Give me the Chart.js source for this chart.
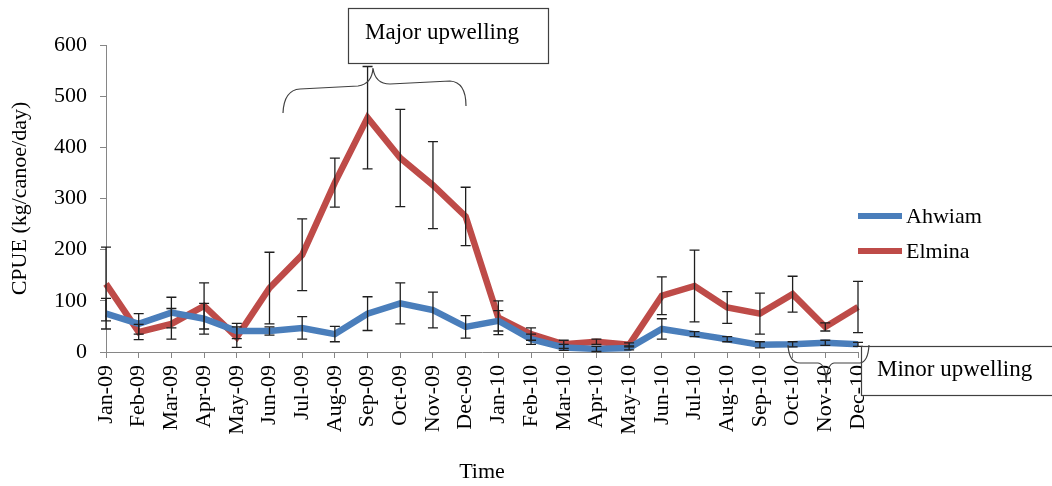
<!DOCTYPE html>
<html>
<head>
<meta charset="utf-8">
<script src="https://cdn.jsdelivr.net/npm/chart.js@4.4.0/dist/chart.umd.min.js"></script>
<style>
    body { margin: 0; background: #fff; }
    #wrap { width: 1052px; height: 486px; position: relative; }
</style>
</head>
<body>
<div id="wrap"><canvas id="cpue_chart"></canvas></div>
<script>
const months = ["Jan-09", "Feb-09", "Mar-09", "Apr-09", "May-09", "Jun-09", "Jul-09", "Aug-09",
    "Sep-09", "Oct-09", "Nov-09", "Dec-09", "Jan-10", "Feb-10", "Mar-10", "Apr-10", "May-10",
    "Jun-10", "Jul-10", "Aug-10", "Sep-10", "Oct-10", "Nov-10", "Dec-10"]

const ahwiam = [75, 55, 77, 65, 41, 41, 47, 35, 75, 95, 82, 49, 61, 25, 9, 6, 8, 45, 35, 25, 14, 15, 18, 15]
const ahwiam_err = [30, 20, 30, 30, 15, 8, 22, 15, 33, 40, 35, 22, 20, 10, 6, 5, 4, 20, 5, 5, 6, 5, 5, 4]

const elmina = [133, 39, 55, 90, 29, 125, 190, 331, 458, 379, 326, 265, 67, 35, 15, 20, 14, 110, 129, 87, 75, 113, 49, 88]
const elmina_err = [72, 15, 30, 45, 20, 70, 70, 48, 100, 95, 85, 57, 33, 12, 8, 5, 4, 37, 70, 31, 40, 35, 8, 50]

const y_ticks = [0, 100, 200, 300, 400, 500, 600]

const serif = "'Liberation Serif', 'Times New Roman', serif"

// error bars drawn over the lines, same as the excel output
const errorBars = {
    id: "errorBars",
    afterDatasetsDraw(chart) {
        let ctx = chart.ctx
        let x = chart.scales.x
        let y = chart.scales.y
        let errs = [ahwiam_err, elmina_err]
        ctx.save()
        ctx.strokeStyle = "#1f1f1f"
        ctx.lineWidth = 1.3
        chart.data.datasets.forEach((ds, i) => {
            for (let j = 0; j < ds.data.length; j++) {
                let px = x.getPixelForValue(j)
                let top = y.getPixelForValue(ds.data[j] + errs[i][j])
                let bot = y.getPixelForValue(Math.max(ds.data[j] - errs[i][j], 0))
                ctx.beginPath()
                ctx.moveTo(px, top)
                ctx.lineTo(px, bot)
                ctx.moveTo(px - 5, top)
                ctx.lineTo(px + 5, top)
                ctx.moveTo(px - 5, bot)
                ctx.lineTo(px + 5, bot)
                ctx.stroke()
            }
        })
        ctx.restore()
    }
}

// legend + the two upwelling call-outs
const extras = {
    id: "extras",
    afterDraw(chart) {
        let ctx = chart.ctx
        ctx.save()

        // legend
        chart.data.datasets.forEach((ds, i) => {
            let ly = 216 + i * 35
            ctx.strokeStyle = ds.borderColor
            ctx.lineWidth = 6
            ctx.beginPath()
            ctx.moveTo(858, ly)
            ctx.lineTo(902, ly)
            ctx.stroke()
            ctx.fillStyle = "#000"
            ctx.font = "22px " + serif
            ctx.textBaseline = "middle"
            ctx.fillText(ds.label, 906, ly + 1)
        })

        ctx.strokeStyle = "#404040"
        ctx.lineWidth = 1.2

        // major upwelling box and brace
        ctx.fillStyle = "#fff"
        ctx.fillRect(348, 8, 200, 55)
        ctx.strokeRect(348.5, 8.5, 200, 55)
        ctx.fillStyle = "#000"
        ctx.font = "23px " + serif
        ctx.textBaseline = "alphabetic"
        ctx.fillText("Major upwelling", 365, 39)

        ctx.beginPath()
        ctx.moveTo(283, 113)
        ctx.quadraticCurveTo(284, 90, 300, 89)
        ctx.lineTo(358, 86)
        ctx.quadraticCurveTo(372, 84, 373, 68)
        ctx.quadraticCurveTo(375, 84, 390, 84)
        ctx.lineTo(450, 81)
        ctx.quadraticCurveTo(466, 82, 466, 106)
        ctx.stroke()

        // minor upwelling box and brace
        ctx.fillStyle = "#fff"
        ctx.fillRect(861, 346, 200, 49)
        ctx.strokeRect(861.5, 346.5, 200, 49)
        ctx.fillStyle = "#000"
        ctx.font = "23px " + serif
        ctx.fillText("Minor upwelling", 877, 376)

        ctx.beginPath()
        ctx.moveTo(788, 345)
        ctx.quadraticCurveTo(789, 363, 800, 363)
        ctx.lineTo(818, 363)
        ctx.quadraticCurveTo(826, 364, 826, 383)
        ctx.quadraticCurveTo(827, 364, 834, 363)
        ctx.lineTo(860, 363)
        ctx.quadraticCurveTo(868, 362, 869, 345)
        ctx.stroke()

        ctx.restore()
    }
}

Chart.defaults.font.family = serif
Chart.defaults.font.size = 22
Chart.defaults.color = "#000"

let chart = new Chart(document.getElementById("cpue_chart").getContext("2d"), {
    type: "line",
    data: {
        labels: months,
        datasets: [{
            label: "Ahwiam",
            data: ahwiam,
            borderColor: "rgb(74, 126, 187)",
            backgroundColor: "rgb(74, 126, 187)",
            borderWidth: 6.5,
            pointRadius: 0,
            tension: 0
        }, {
            label: "Elmina",
            data: elmina,
            borderColor: "rgb(190, 75, 72)",
            backgroundColor: "rgb(190, 75, 72)",
            borderWidth: 6.5,
            pointRadius: 0,
            tension: 0
        }]
    },
    options: {
        responsive: true,
        maintainAspectRatio: false,
        animation: false,
        layout: {
            padding: { top: 45, right: 194, bottom: 0, left: 0 }
        },
        plugins: {
            legend: { display: false },
            tooltip: { enabled: false }
        },
        scales: {
            x: {
                offset: false,
                afterFit: (scale) => { scale.height = 134 },
                border: { color: "#868686", width: 1 },
                grid: { drawOnChartArea: false, drawTicks: true, tickLength: 6, color: "#868686" },
                ticks: { minRotation: 90, maxRotation: 90, padding: 7, autoSkip: false, font: { size: 22 } },
                title: { display: true, text: "Time", padding: { top: 0, bottom: 1 }, font: { size: 22 } }
            },
            y: {
                min: 0,
                max: 600,
                afterFit: (scale) => { scale.width = 106 },
                afterBuildTicks: (scale) => { scale.ticks = y_ticks.map(v => ({ value: v })) },
                border: { color: "#868686", width: 1 },
                grid: { drawOnChartArea: false, drawTicks: true, tickLength: 6, color: "#868686" },
                ticks: { padding: 13, font: { size: 22 } },
                title: { display: true, text: "CPUE (kg/canoe/day)", padding: { top: 7, bottom: 0 }, font: { size: 22 } }
            }
        }
    },
    plugins: [errorBars, extras]
})
</script>
</body>
</html>
